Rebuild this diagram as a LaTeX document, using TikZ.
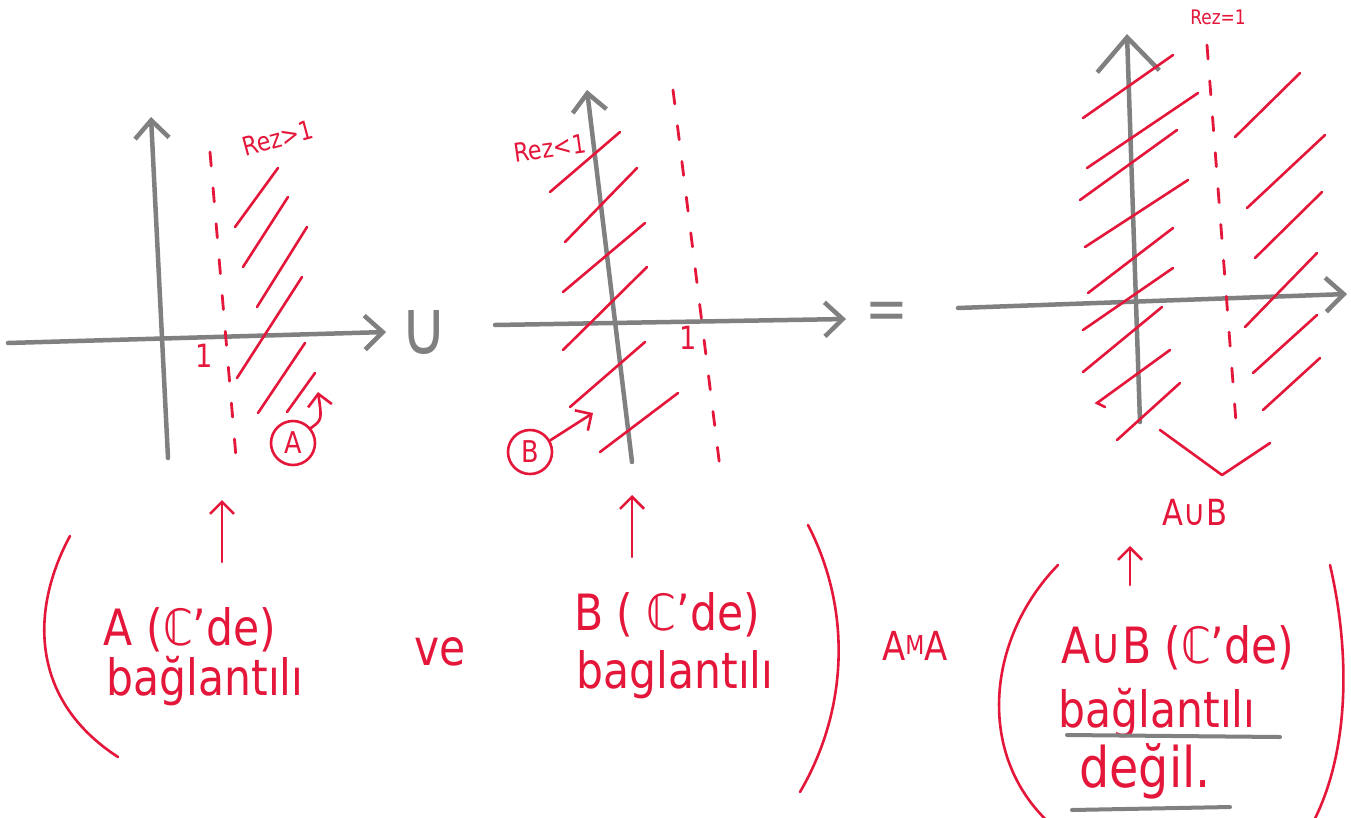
\documentclass[tikz,border=0pt]{standalone}
\usepackage{fontspec}
\setmainfont{DejaVu Sans}[FakeStretch=0.85]
\usetikzlibrary{arrows.meta}
\definecolor{mred}{RGB}{228,22,58}
\definecolor{pgray}{RGB}{128,128,128}
\tikzset{
  axisline/.style={draw=pgray, line width=4.5pt, line cap=round, -{Straight Barb[length=18pt,width=34pt]}},
  hatch/.style={draw=mred, line width=2.6pt, line cap=round},
  dashred/.style={draw=mred, line width=2.8pt, line cap=round, dash pattern=on 14pt off 22pt},
  redarrow/.style={draw=mred, line width=2.6pt, line cap=round, -{Straight Barb[length=12pt,width=24pt]}},
  paren/.style={draw=mred, line width=2.6pt, line cap=round},
  redtext/.style={text=mred, inner sep=0pt, font=\fontsize{50}{60}\selectfont},
  smalltext/.style={text=mred, inner sep=0pt, font=\fontsize{26}{30}\selectfont},
  circlab/.style={circle, draw=mred, line width=2.6pt, minimum size=44pt, inner sep=0pt, text=mred, font=\fontsize{30}{34}\selectfont},
  graytext/.style={text=pgray, inner sep=0pt, font=\fontsize{76}{80}\selectfont},
  underl/.style={draw=pgray, line width=4pt, line cap=round}
}
\begin{document}
\begin{tikzpicture}[x=1pt,y=-1pt]
\useasboundingbox (0,0) rectangle (1351,817);
\fill[white] (0,0) rectangle (1351,817);

% ---------------- Panel 1 ----------------
\coordinate (a1l) at (8,343); \coordinate (a1r) at (386,332);
\coordinate (a1b) at (168,458); \coordinate (a1t) at (151,117);
\draw[axisline] (a1l) -- (a1r);
\draw[axisline] (a1b) -- (a1t);
\coordinate (d1t) at (210,152); \coordinate (d1b) at (236,457);
\draw[dashred] (d1t) -- (d1b);
\draw[hatch] (235,227) -- (278,168);
\draw[hatch] (243,267) -- (288,197);
\draw[hatch] (257,307) -- (307,227);
\draw[hatch] (237,378) -- (302,277);
\draw[hatch] (258,413) -- (305,343);
\draw[hatch] (287,412) -- (315,373);
\node[smalltext, rotate=15] (re1) at (278,138) {Rez>1};
\node[smalltext, font=\fontsize{32}{36}\selectfont] (one1) at (204,356) {1};
\node[circlab] (cA) at (293,443) {A};
\coordinate (hA) at (318,392);
\draw[redarrow] (cA.40) .. controls (322,420) .. (hA);
\coordinate (u1s) at (222,562); \coordinate (u1e) at (222,500);
\draw[redarrow] (u1s) -- (u1e);
\coordinate (p1a) at (70,536); \coordinate (p1b) at (118,757);
\draw[paren] (p1a) .. controls (30,610) and (30,700) .. (p1b);
\node[redtext, anchor=base] (tA1) at (190,645) {A (ℂ'de)};
\node[redtext, anchor=base] (tA2) at (205,695) {bağlantılı};

\node[graytext, anchor=base] (cup) at (424,354) {∪};
\node[redtext, anchor=base] (ve) at (440,665) {ve};

% ---------------- Panel 2 ----------------
\coordinate (a2l) at (495,325); \coordinate (a2r) at (846,319);
\coordinate (a2b) at (632,462); \coordinate (a2t) at (587,90);
\draw[axisline] (a2l) -- (a2r);
\draw[axisline] (a2b) -- (a2t);
\coordinate (d2t) at (673,90); \coordinate (d2b) at (720,468);
\draw[dashred] (d2t) -- (d2b);
\draw[hatch] (550,192) -- (620,132);
\draw[hatch] (565,242) -- (637,168);
\draw[hatch] (563,292) -- (645,223);
\draw[hatch] (563,350) -- (647,267);
\draw[hatch] (570,407) -- (645,342);
\draw[hatch] (600,452) -- (678,393);
\node[smalltext, rotate=8] (re2) at (550,148) {Rez<1};
\node[smalltext, font=\fontsize{32}{36}\selectfont] (one2) at (688,338) {1};
\node[circlab] (cB) at (530,452) {B};
\coordinate (hB) at (593,413);
\draw[redarrow] (cB.30) -- (hB);
\coordinate (u2s) at (632,557); \coordinate (u2e) at (632,495);
\draw[redarrow] (u2s) -- (u2e);
\coordinate (p2a) at (808,525); \coordinate (p2b) at (800,792);
\draw[paren] (p2a) .. controls (852,610) and (848,710) .. (p2b);
\node[redtext, anchor=base] (tB1) at (667,630) {B ( ℂ'de)};
\node[redtext, anchor=base] (tB2) at (675,688) {baglantılı};

\node[graytext, font=\fontsize{60}{66}\selectfont] (eq) at (887,316) {=};
\node[redtext, anchor=base, font=\fontsize{40}{46}\selectfont] (ama) at (915,660) {A\raisebox{6pt}{\fontsize{26}{30}\selectfont M}A};

% ---------------- Panel 3 ----------------
\coordinate (a3l) at (958,308); \coordinate (a3r) at (1347,294);
\coordinate (a3b) at (1140,422); \coordinate (a3t) at (1127,34);
\draw[axisline] (a3l) -- (a3r);
\draw[draw=pgray, line width=4.5pt, line cap=round, -{Straight Barb[length=34pt,width=62pt]}] (a3b) -- (a3t);
\coordinate (d3t) at (1207,45); \coordinate (d3b) at (1237,435);
\draw[dashred] (d3t) -- (d3b);
\draw[hatch] (1083,118) -- (1173,55);
\draw[hatch] (1087,168) -- (1198,93);
\draw[hatch] (1080,200) -- (1177,130);
\draw[hatch] (1085,247) -- (1188,180);
\draw[hatch] (1088,293) -- (1173,228);
\draw[hatch] (1083,330) -- (1173,268);
\draw[hatch] (1083,372) -- (1162,307);
\draw[hatch] (1170,350) -- (1097,403) -- (1105,407);
\draw[hatch] (1117,440) -- (1180,383);
\draw[hatch] (1235,137) -- (1300,73);
\draw[hatch] (1247,208) -- (1325,135);
\draw[hatch] (1255,258) -- (1322,192);
\draw[hatch] (1245,327) -- (1317,253);
\draw[hatch] (1253,373) -- (1317,315);
\draw[hatch] (1263,410) -- (1320,358);
\node[smalltext, font=\fontsize{20}{24}\selectfont] (re3) at (1218,17) {Rez=1};
\coordinate (v1) at (1160,430); \coordinate (v2) at (1222,475); \coordinate (v3) at (1270,443);
\draw[hatch, line join=round] (v1) -- (v2) -- (v3);
\node[redtext, anchor=base, font=\fontsize{36}{40}\selectfont] (aub) at (1195,525) {A∪B};
\coordinate (u3s) at (1130,585); \coordinate (u3e) at (1130,546);
\draw[redarrow] (u3s) -- (u3e);
\coordinate (p3a) at (1058,565); \coordinate (p3b) at (1055,828);
\draw[paren] (p3a) .. controls (985,640) and (975,760) .. (p3b);
\coordinate (p4a) at (1330,565); \coordinate (p4b) at (1310,828);
\draw[paren] (p4a) .. controls (1352,660) and (1348,760) .. (p4b);
\node[redtext, anchor=base] (tU1) at (1178,663) {A∪B (ℂ'de)};
\node[redtext, anchor=base] (tU2) at (1157,727) {bağlantılı};
\node[redtext, anchor=base, font=\fontsize{56}{62}\selectfont] (tU3) at (1145,787) {değil.};
\coordinate (ul1a) at (1067,735); \coordinate (ul1b) at (1280,737);
\draw[underl] (ul1a) -- (ul1b);
\coordinate (ul2a) at (1072,810); \coordinate (ul2b) at (1230,807);
\draw[underl] (ul2a) -- (ul2b);
\end{tikzpicture}
\end{document}
